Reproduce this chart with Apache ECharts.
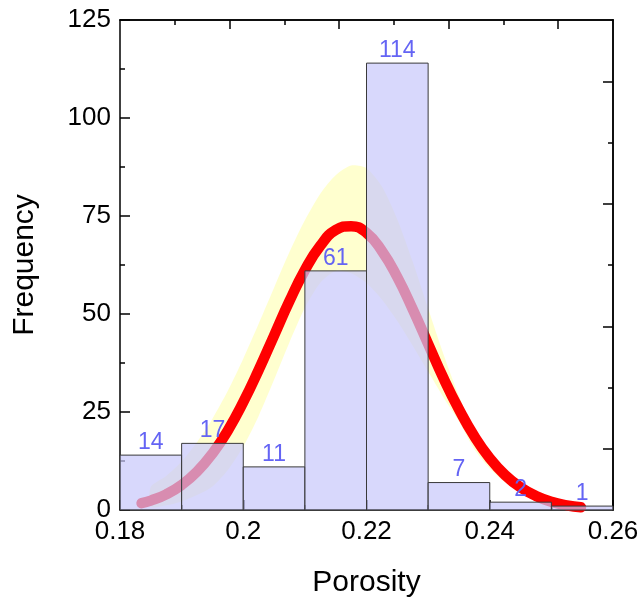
<!DOCTYPE html>
<html>
<head>
<meta charset="utf-8">
<script src="https://cdn.jsdelivr.net/npm/echarts@6/dist/echarts.min.js"></script>
<style>
  html, body { margin: 0; padding: 0; background: #ffffff; }
  #chart { width: 643px; height: 608px; }
</style>
</head>
<body>
<div id="chart"></div>
<script>
// Histogram of porosity: bin edges and counts per bin
const binEdges = [0.18, 0.19, 0.20, 0.21, 0.22, 0.23, 0.24, 0.25, 0.26];
const counts = [14, 17, 11, 61, 114, 7, 2, 1];

// Tick labels
const xTickLabels = ['0.18', '0.2', '0.22', '0.24', '0.26'];
const yTickLabels = ['0', '25', '50', '75', '100', '125'];

// Fitted distribution curve (x, frequency)
const fitX = [0.1835, 0.185, 0.1875, 0.19, 0.1925, 0.195, 0.1975, 0.2, 0.2025, 0.205,
              0.2075, 0.21, 0.2125, 0.215, 0.2175, 0.22, 0.2225, 0.225, 0.2275, 0.23,
              0.2325, 0.235, 0.2375, 0.24, 0.2425, 0.245, 0.2475, 0.25, 0.2525, 0.2548];
const fitY = [1.75, 2.4, 4.0, 6.4, 9.8, 14.4, 20.3, 27.5, 35.7, 44.5,
              53.3, 61.2, 67.4, 71.4, 72.4, 70.7, 66.1, 59.4, 51.2, 42.4,
              33.6, 25.7, 18.8, 13.2, 8.9, 5.75, 3.6, 2.1, 1.2, 0.7];

// Uncertainty band around the fitted curve
const bandX = [0.185, 0.1875, 0.19, 0.1925, 0.195, 0.1975, 0.2, 0.2025, 0.205, 0.2075,
               0.21, 0.2125, 0.215, 0.2175, 0.22, 0.2225, 0.225, 0.2275, 0.23, 0.2325,
               0.235, 0.2375, 0.24, 0.2425, 0.245, 0.2475, 0.25, 0.2525, 0.255];
const bandUpper = [5.9, 8.7, 12.4, 17.3, 23.3, 30.4, 38.6, 47.5, 56.7, 65.8,
                   73.9, 80.7, 85.4, 87.9, 87.2, 82.5, 74.1, 63.3, 51.4, 39.7,
                   29.1, 20.3, 14.8, 10.5, 7.2, 5.0, 3.5, 2.3, 1.5];
const bandLower = [0.8, 1.2, 2.2, 3.8, 6.0, 10.2, 16.2, 24.0, 33.2, 42.8,
                   51.6, 58.0, 61.0, 60.4, 57.9, 53.7, 48.2, 41.9, 35.3, 28.7,
                   22.6, 15.5, 10.6, 7.0, 4.5, 2.8, 1.6, 0.9, 0.5];

const FONT = '"Liberation Sans", Arial, Helvetica, sans-serif';
const frameLine = { show: true, onZero: false, lineStyle: { color: '#000', width: 1.5 } };
const tickStyle = { color: '#000', width: 1.5 };

// Bars as [start, end, count]
const histData = counts.map((c, i) => [binEdges[i], binEdges[i + 1], c]);
const fitData = fitX.map((x, i) => [x, fitY[i]]);

const chart = echarts.init(document.getElementById('chart'), null, { renderer: 'canvas' });

chart.setOption({
  animation: false,
  backgroundColor: '#ffffff',
  grid: { left: 120, right: 30, top: 20, bottom: 98 },
  xAxis: [
    {
      type: 'value', position: 'bottom',
      min: 0.18, max: 0.26, interval: 0.02,
      axisLine: frameLine,
      axisTick: { inside: true, length: 10, lineStyle: tickStyle },
      minorTick: { show: true, splitNumber: 2, length: 5, lineStyle: tickStyle },
      splitLine: { show: false },
      axisLabel: {
        color: '#000', fontSize: 26, fontFamily: FONT, margin: 9,
        formatter: v => xTickLabels[Math.round((v - 0.18) / 0.02)]
      },
      name: 'Porosity', nameLocation: 'middle', nameGap: 58,
      nameTextStyle: { color: '#000', fontSize: 30, fontFamily: FONT }
    },
    {
      type: 'value', position: 'top', min: 0, max: 9, interval: 1,
      axisLine: frameLine,
      axisTick: { inside: true, length: 9, lineStyle: tickStyle, customValues: [2, 4, 6, 8] },
      axisLabel: { show: false }, splitLine: { show: false }
    },
    {
      type: 'value', position: 'top', min: 0, max: 9, interval: 1,
      axisLine: frameLine,
      axisTick: { inside: true, length: 5, lineStyle: tickStyle, customValues: [1, 3, 5, 7] },
      axisLabel: { show: false }, splitLine: { show: false }
    }
  ],
  yAxis: [
    {
      type: 'value', position: 'left',
      min: 0, max: 125, interval: 25,
      axisLine: frameLine,
      axisTick: { inside: true, length: 10, lineStyle: tickStyle },
      minorTick: { show: true, splitNumber: 2, length: 5, lineStyle: tickStyle },
      splitLine: { show: false },
      axisLabel: {
        color: '#000', fontSize: 26, fontFamily: FONT, margin: 9,
        formatter: v => yTickLabels[Math.round(v / 25)]
      },
      name: 'Frequency', nameLocation: 'middle', nameGap: 80,
      nameTextStyle: { color: '#000', fontSize: 30, fontFamily: FONT }
    },
    {
      type: 'value', position: 'right', min: 0, max: 8, interval: 1,
      axisLine: frameLine,
      axisTick: { inside: true, length: 10, lineStyle: tickStyle, customValues: [1, 3, 5, 7] },
      axisLabel: { show: false }, splitLine: { show: false }
    },
    {
      type: 'value', position: 'right', min: 0, max: 8, interval: 1,
      axisLine: frameLine,
      axisTick: { inside: true, length: 5, lineStyle: tickStyle, customValues: [2, 4, 6] },
      axisLabel: { show: false }, splitLine: { show: false }
    }
  ],
  series: [
    {
      // shaded band behind the fit
      type: 'custom', name: 'band', z: 1,
      xAxisIndex: 0, yAxisIndex: 0,
      data: [[bandX[0], bandUpper[0]]],
      renderItem: function (params, api) {
        const pts = [];
        for (let i = 0; i < bandX.length; i++) pts.push(api.coord([bandX[i], bandUpper[i]]));
        for (let i = bandX.length - 1; i >= 0; i--) pts.push(api.coord([bandX[i], bandLower[i]]));
        return {
          type: 'polygon',
          shape: { points: pts, smooth: 0.25 },
          style: { fill: '#ffffcf', stroke: null }
        };
      },
      silent: true
    },
    {
      type: 'line', name: 'fit', z: 2,
      xAxisIndex: 0, yAxisIndex: 0,
      data: fitData, smooth: true, showSymbol: false,
      lineStyle: { color: '#ff0000', width: 10.5, cap: 'round', join: 'round' }
    },
    {
      type: 'custom', name: 'histogram', z: 3,
      xAxisIndex: 0, yAxisIndex: 0,
      data: histData,
      encode: { x: [0, 1], y: 2 },
      renderItem: function (params, api) {
        const x0 = api.value(0), x1 = api.value(1), c = api.value(2);
        const pTop = api.coord([x0, c]);
        const pBot = api.coord([x1, 0]);
        return {
          type: 'group',
          children: [
            {
              type: 'rect',
              shape: { x: pTop[0], y: pTop[1], width: pBot[0] - pTop[0], height: pBot[1] - pTop[1] },
              style: { fill: 'rgba(199,199,251,0.7)', stroke: '#3a3a3a', lineWidth: 1 }
            },
            {
              type: 'text',
              z2: 10,
              style: {
                text: String(c),
                x: (pTop[0] + pBot[0]) / 2, y: pTop[1] - 1,
                align: 'center', verticalAlign: 'bottom',
                fill: '#6464f4', fontSize: 23, fontFamily: FONT
              }
            }
          ]
        };
      }
    }
  ]
});
</script>
</body>
</html>
